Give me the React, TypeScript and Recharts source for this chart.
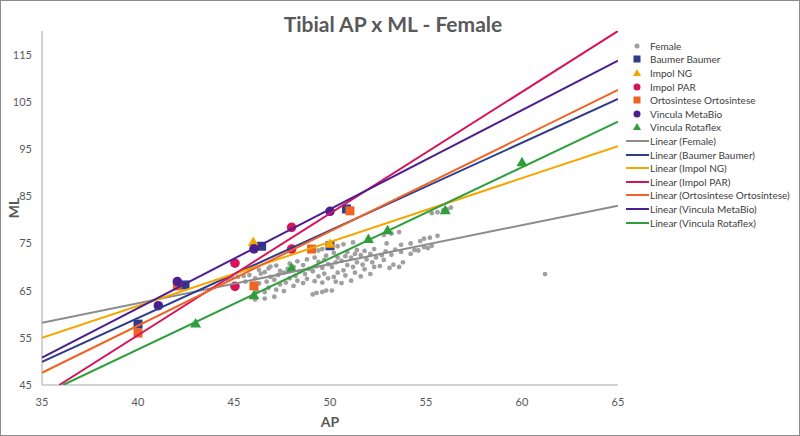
import React from 'react';
import { ScatterChart, Scatter, XAxis, YAxis, Legend } from 'recharts';

// series names and colours
const seriesNames = ['Female', 'Baumer Baumer', 'Impol NG', 'Impol PAR', 'Ortosintese Ortosintese', 'Vincula MetaBio', 'Vincula Rotaflex'];
const seriesColors = ['#a0a0a0', '#2f3c8c', '#f4a700', '#d6145c', '#ef6424', '#4b1f8f', '#2f9e3c'];
const seriesShapes = ['dot', 'square', 'triangle', 'circle', 'square', 'circle', 'triangle'];

const xTicks = [35, 40, 45, 50, 55, 60, 65];
const yTicks = [45, 55, 65, 75, 85, 95, 105, 115];

// [AP, ML]
const femalePoints = [
  [44.7, 67.3], [44.9, 67.7], [45.2, 67.9], [45.5, 68.1], [45.8, 68.3], [45.6, 66.9],
  [46.1, 63.1], [46.2, 64.8], [46.3, 66.5], [46.1, 67.6], [46.4, 68.6], [46.3, 69.4],
  [46.6, 63.3], [46.6, 64.7], [46.8, 65.6], [46.7, 66.9], [46.9, 67.9], [46.6, 68.9], [46.8, 69.7], [46.9, 70.1],
  [47.1, 63.7], [47.2, 65.2], [47.4, 66.3], [47.1, 67.3], [47.3, 68.3], [47.4, 69.2], [47.2, 70.3],
  [47.6, 64.9], [47.7, 66.7], [47.9, 67.6], [47.6, 68.8], [47.8, 69.6], [47.9, 70.7],
  [48.1, 66.0], [48.3, 67.1], [48.2, 68.1], [48.4, 69.0], [48.1, 70.0], [48.3, 71.2],
  [48.6, 66.6], [48.8, 67.5], [48.7, 68.5], [48.9, 69.6], [48.6, 70.4], [48.8, 71.6],
  [49.1, 64.2], [49.3, 64.5], [49.2, 67.0], [49.4, 68.0], [49.1, 69.1], [49.3, 70.2], [49.4, 71.1], [49.2, 72.0], [49.4, 73.5],
  [49.6, 64.7], [49.8, 65.0], [49.6, 66.7], [49.9, 67.6], [49.7, 68.6], [49.6, 69.8], [49.9, 70.6], [49.7, 71.5], [49.8, 72.4], [49.6, 73.8],
  [50.1, 65.0], [50.3, 66.9], [50.2, 67.9], [50.4, 68.8], [50.1, 70.0], [50.3, 71.0], [50.4, 72.0], [50.2, 73.0], [50.4, 74.4],
  [50.6, 66.6], [50.8, 68.2], [50.7, 69.3], [50.9, 70.4], [50.6, 71.3], [50.8, 72.3], [50.9, 73.2], [50.7, 74.8],
  [51.1, 67.1], [51.3, 68.8], [51.2, 70.0], [51.4, 71.0], [51.1, 72.0], [51.3, 72.8], [51.4, 73.6], [51.2, 75.2],
  [51.6, 68.0], [51.8, 69.5], [51.7, 70.5], [51.9, 71.6], [51.6, 72.5], [51.8, 73.4],
  [52.1, 68.5], [52.3, 70.0], [52.2, 71.0], [52.4, 72.0], [52.1, 72.8], [52.3, 73.8],
  [52.6, 70.2], [52.8, 71.5], [52.7, 72.5], [52.9, 73.3], [52.95, 75.0], [52.8, 76.8],
  [53.1, 69.8], [53.3, 70.5], [53.2, 72.6], [53.4, 73.7], [53.2, 77.1],
  [53.6, 70.0], [53.8, 71.0], [53.7, 73.2], [53.7, 74.7], [53.6, 77.4],
  [54.2, 72.8], [54.4, 73.6], [54.2, 75.0],
  [54.6, 73.5], [54.9, 74.2], [54.7, 75.5], [54.9, 76.0],
  [55.1, 74.0], [55.3, 74.5], [55.2, 76.2], [55.3, 81.4],
  [55.6, 76.6], [55.6, 81.6], [55.9, 82.0],
  [56.1, 82.2], [56.3, 82.6],
  [61.2, 68.5],
];
const baumerPoints = [[40.0, 57.9], [42.45, 66.2], [46.44, 74.4], [50.0, 74.5], [50.86, 82.3]];
const impolNGPoints = [[46.0, 75.2], [50.0, 74.8]];
const impolPARPoints = [[45.05, 70.8], [45.05, 65.9], [48.0, 78.4], [48.0, 73.8]];
const ortoPoints = [[40.0, 56.0], [42.05, 66.0], [46.04, 66.0], [49.04, 73.8], [51.04, 81.9]];
const metaBioPoints = [[41.06, 61.8], [42.05, 66.9], [46.04, 73.85], [50.0, 81.8]];
const rotaflexPoints = [[43.0, 57.9], [46.04, 63.9], [48.0, 69.7], [52.0, 75.8], [53.0, 77.7], [56.0, 81.9], [60.0, 92.1]];

// linear trend lines: [startAP, startML, endAP, endML]
const trendLines = [
  [35, 58.2, 65, 83.0],
  [35, 49.9, 65, 105.6],
  [35, 55.0, 65, 95.6],
  [35.9, 45, 65, 120],
  [35, 47.6, 65, 107.5],
  [35, 50.8, 65, 113.7],
  [36.1, 45, 65, 100.8],
];
const trendColors = ['#8c8c8c', '#2f3c8c', '#f4a700', '#d6145c', '#ef6424', '#4b1f8f', '#2f9e3c'];

const allPoints = [femalePoints, baumerPoints, impolNGPoints, impolPARPoints, ortoPoints, metaBioPoints, rotaflexPoints];

const toXY = (pts: number[][]) => pts.map(([x, y]) => ({ x, y }));

const makeShape = (kind: string, color: string) => (props: any) => {
  const { cx, cy } = props;
  if (cx == null || cy == null) return <g />;
  if (kind === 'dot') return <circle cx={cx} cy={cy} r={2.4} fill={color} />;
  if (kind === 'square') return <rect x={cx - 4.5} y={cy - 4.5} width={9} height={9} fill={color} />;
  if (kind === 'triangle')
    return <polygon points={`${cx},${cy - 6} ${cx - 5.5},${cy + 3.5} ${cx + 5.5},${cy + 3.5}`} fill={color} />;
  return <circle cx={cx} cy={cy} r={4.8} fill={color} />;
};

const noShape = () => <g />;

const legendIcon = (kind: string, color: string) => {
  if (kind === 'line') return <line x1={1} y1={7} x2={24} y2={7} stroke={color} strokeWidth={2} />;
  if (kind === 'dot') return <circle cx={12} cy={7} r={2.5} fill={color} />;
  if (kind === 'square') return <rect x={8.5} y={3.5} width={7} height={7} fill={color} />;
  if (kind === 'triangle') return <polygon points="12,3 8,10 16,10" fill={color} />;
  return <circle cx={12} cy={7} r={3.5} fill={color} />;
};

const renderLegend = () => {
  const rows = [
    ...seriesNames.map((n, i) => ({ label: n, kind: seriesShapes[i], color: seriesColors[i] })),
    ...seriesNames.map((n, i) => ({ label: `Linear (${n})`, kind: 'line', color: trendColors[i] })),
  ];
  return (
    <div style={{ fontFamily: 'Lato, sans-serif', fontSize: 10, color: '#404040' }}>
      {rows.map((r) => (
        <div key={r.label} style={{ display: 'flex', alignItems: 'center', height: 13.6, whiteSpace: 'nowrap' }}>
          <svg width={25} height={14} style={{ flex: 'none' }}>{legendIcon(r.kind, r.color)}</svg>
          <span>{r.label}</span>
        </div>
      ))}
    </div>
  );
};

export default function App() {
  return (
    <div
      style={{
        position: 'absolute',
        left: 0,
        top: 0,
        width: 800,
        height: 436,
        boxSizing: 'border-box',
        border: '1px solid #8c8c8c',
        background: '#fff',
        fontFamily: 'Lato, sans-serif',
      }}
    >
      <div
        style={{
          position: 'absolute',
          top: 10,
          left: 0,
          width: 784,
          textAlign: 'center',
          fontSize: 21,
          fontWeight: 700,
          color: '#595959',
          lineHeight: '26px',
        }}
      >
        Tibial AP x ML - Female
      </div>
      <ScatterChart width={798} height={434} margin={{ top: 30, right: 181, bottom: 0, left: 11 }}>
        <XAxis
          type="number"
          dataKey="x"
          domain={[35, 65]}
          ticks={xTicks}
          allowDataOverflow
          height={50}
          tickLine={false}
          tickSize={6}
          tickMargin={7}
          stroke="#a6a6a6"
          tick={{ fill: '#595959', fontSize: 11 }}
          label={{ value: 'AP', position: 'insideBottom', offset: 8, fill: '#595959', fontSize: 14, fontWeight: 700 }}
        />
        <YAxis
          type="number"
          dataKey="y"
          domain={[45, 120]}
          ticks={yTicks}
          allowDataOverflow
          width={30}
          tickLine={false}
          tickSize={6}
          tickMargin={4}
          stroke="#a6a6a6"
          tick={{ fill: '#595959', fontSize: 11 }}
          label={{
            value: 'ML',
            angle: -90,
            position: 'insideLeft',
            offset: 2,
            fill: '#595959',
            fontSize: 14,
            fontWeight: 700,
            style: { textAnchor: 'middle' },
          }}
        />
        {allPoints.map((pts, i) => (
          <Scatter
            key={seriesNames[i]}
            name={seriesNames[i]}
            data={toXY(pts)}
            fill={seriesColors[i]}
            shape={makeShape(seriesShapes[i], seriesColors[i])}
            isAnimationActive={false}
          />
        ))}
        {trendLines.map((t, i) => (
          <Scatter
            key={`trend-${i}`}
            name={`Linear (${seriesNames[i]})`}
            data={[{ x: t[0], y: t[1] }, { x: t[2], y: t[3] }]}
            line={{ stroke: trendColors[i], strokeWidth: 2 }}
            shape={noShape}
            legendType="none"
            isAnimationActive={false}
          />
        ))}
        <Legend
          layout="vertical"
          align="center"
          verticalAlign="middle"
          content={renderLegend}
          wrapperStyle={{ left: 624, top: 38, width: 172 }}
        />
      </ScatterChart>
    </div>
  );
}
